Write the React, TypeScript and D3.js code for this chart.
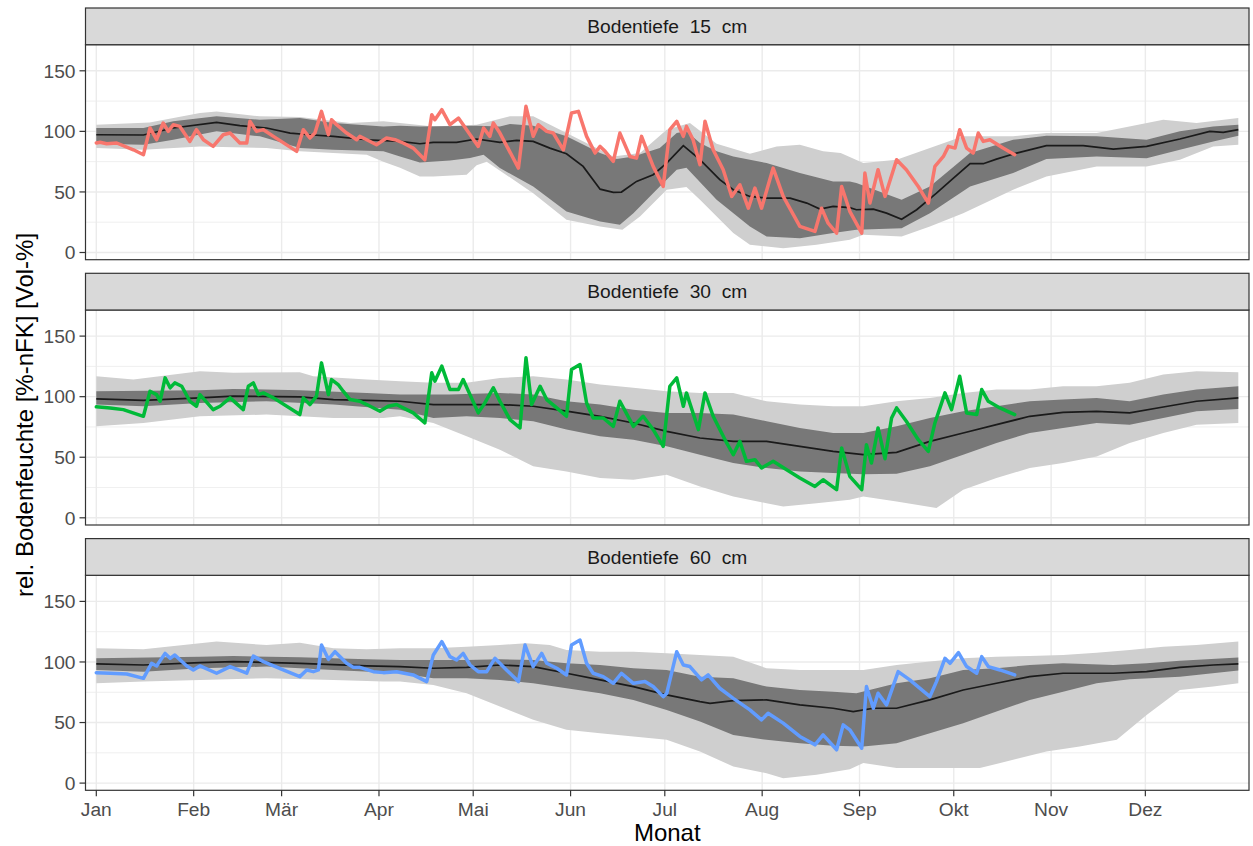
import React, { useEffect } from "react";
import * as d3 from "d3";

// [day of year (0 = 1 Jan), value in %-nFK]
type Pt = [number, number];

const monthLabels = ["Jan", "Feb", "Mär", "Apr", "Mai", "Jun", "Jul", "Aug", "Sep", "Okt", "Nov", "Dez"];
const depthLabels = ["Bodentiefe  15  cm", "Bodentiefe  30  cm", "Bodentiefe  60  cm"];
const obsColors = ["#F8766D", "#00BA38", "#619CFF"];
const yTicks = [0, 50, 100, 150];
const yMinor = [25, 75, 125];

// ---- 15 cm ----
const median15: Pt[] = [
  [0, 97.2], [15, 97], [24.5, 102.8], [38.3, 107.4], [45.7, 104.7], [54.2, 102.8], [61.7, 98.6], [68, 97.2],
  [75.5, 95.9], [86.1, 93.1], [96.7, 91.7], [103, 89.8], [107.3, 90.9], [114.7, 90.9], [121.1, 93.7], [128.5, 90.9],
  [133.8, 92.6], [139.1, 91.7], [144.4, 86.2], [149.7, 81.5], [155, 71.1], [160.4, 52.3], [164.6, 49.6], [167.2, 49.9],
  [172, 58.7], [177.3, 64.2], [181.6, 73.8], [186.9, 88.2], [192.2, 76.6], [198.5, 60.1], [202.8, 51.8], [208.1, 46.3],
  [213.4, 44.9], [220.9, 44.9], [226.2, 40.8], [230.4, 35.8], [234.6, 38], [239.9, 37], [242, 35.3], [247.4, 35.8],
  [251.6, 32.5], [256.4, 27.5], [261.2, 35.3], [267.5, 49], [272.9, 61.4], [278.2, 73.3], [282.4, 73.3], [286.6, 77.1],
  [293, 82.1], [302.5, 88.2], [314.2, 88.2], [323.8, 85.4], [334.4, 87.6], [345, 93.7], [354.5, 100], [358.8, 99.2],
  [363.6, 101.4],
];
const darkHi15: Pt[] = [
  [0, 102.8], [15, 102.8], [24.5, 108.3], [38.3, 112.4], [52.1, 109.6], [64.8, 111], [75.5, 106.9], [91.4, 104.1],
  [96.7, 104.7], [103, 104], [121.1, 104.7], [128.5, 104], [131.7, 106], [139.1, 104.7], [149.7, 95.9], [160.4, 82.1],
  [165.7, 77.1], [171, 79.3], [179.4, 86.2], [184.8, 98.6], [187.9, 100], [192.2, 90.4], [197.5, 83.5], [202.8, 79.3],
  [213.4, 73.8], [224, 65.6], [234.6, 58.7], [239.9, 58.7], [242, 57.3], [256.4, 43.5], [265.4, 54.5], [278.2, 82.1],
  [291.9, 93.1], [302.5, 96.4], [318.5, 95.9], [334.4, 93.1], [345, 100], [355.6, 104.1], [363.6, 105.5],
];
const darkLo15: Pt[] = [
  [0, 89.8], [15, 89], [24.5, 93.1], [38.3, 100], [52.1, 95.9], [64.8, 86.2], [75.5, 84.8], [91.4, 83.5], [96.7, 79.3],
  [103, 74.4], [112.6, 76], [119, 78], [123.3, 80.7], [128.5, 69.7], [139.1, 54.5], [149.7, 33.9], [160.4, 25.6],
  [166.7, 22.9], [171, 32.5], [179.4, 54.5], [184.8, 68.3], [187.9, 70], [197.5, 43.5], [208.1, 21.5], [213.4, 13.2],
  [224, 11.8], [234.6, 16], [242, 18.7], [256.4, 20.1], [265.4, 32.5], [278.2, 54.5], [291.9, 65.6], [302.5, 77.1],
  [318.5, 79.3], [334.4, 77.9], [345, 84.8], [355.6, 91.7], [363.6, 96.4],
];
const lightHi15: Pt[] = [
  [0, 105.5], [17, 107.4], [33, 115.2], [38.3, 116.5], [52.1, 112.4], [64.8, 111.8], [80.8, 106.9], [91.4, 108.3],
  [96.7, 106.9], [107.3, 104], [121.1, 105.5], [131.7, 112.4], [139.1, 112.4], [149.7, 98.6], [164.6, 79.3],
  [173.1, 82.1], [181.6, 101.4], [189, 106.9], [197.5, 89.8], [208.1, 81.5], [216.6, 87.6], [224, 89], [231.4, 83.5],
  [237, 82.1], [244.2, 73.8], [254.8, 76.6], [265.4, 86.2], [276, 95.9], [291.9, 95.9], [302.5, 98.6], [318.5, 98.6],
  [339.7, 109.6], [350.3, 106.9], [363.6, 111],
];
const lightLo15: Pt[] = [
  [0, 86.2], [15, 84.8], [33, 87.6], [54.2, 86.2], [64.8, 83.5], [86.1, 80.7], [91.4, 75], [96.7, 70], [103, 62.8],
  [107.3, 62.8], [117.9, 64.2], [121.1, 72], [124.3, 75], [139.1, 49], [149.7, 27], [160.4, 21.5], [167.5, 18.7],
  [173.1, 29.8], [181.6, 51.8], [187.9, 54], [192.2, 43.5], [202.8, 16], [208.1, 6.3], [218.7, 3.6], [229.3, 6.3],
  [239.9, 10.5], [244.2, 14.6], [256.4, 13.2], [265.4, 21.5], [276, 32.5], [291.9, 51.8], [302.5, 62.8], [318.5, 71.1],
  [334.4, 71.1], [345, 76.6], [355.6, 87.6], [363.6, 89],
];
const obs15: Pt[] = [
  [0, 90.4], [1.2, 91], [3.3, 89.8], [6.5, 90.4], [11.8, 84.8], [15, 80.7], [17.1, 102.8], [19.2, 93.1], [21.3, 106.9],
  [22.9, 100], [24.5, 105.5], [26.6, 104.1], [29.8, 91.7], [31.9, 101.4], [34.1, 93.1], [37.2, 87.6], [40.4, 97.2],
  [42.6, 98.6], [45.7, 90.4], [47.9, 90.4], [48.9, 108.3], [51, 100], [53.2, 101.4], [56.4, 95.9], [63.8, 83.5],
  [65.9, 101.4], [68, 94.5], [69.6, 98.6], [71.7, 116.5], [73.9, 97.2], [74.9, 109.6], [76.5, 105.5], [79.7, 98.6],
  [82.9, 93.1], [83.9, 95.9], [86.1, 93.1], [89.2, 89], [92.4, 94.5], [95.1, 93.1], [97.7, 90.4], [100.9, 86.2],
  [104.6, 76.6], [106.8, 113.8], [107.8, 109.6], [110, 117.9], [112.6, 105.5], [115.3, 111], [116.8, 105.5],
  [121.6, 87.6], [123.3, 102.8], [125.3, 95.9], [126.4, 106.9], [128.5, 98.6], [134.4, 69.7], [136.8, 120.7],
  [139.1, 95.9], [140.7, 105.5], [143.4, 100], [145.5, 98.6], [148.7, 84.8], [151.3, 115.2], [153.5, 116.5],
  [156.1, 95.9], [158.8, 82.1], [160.4, 87.6], [162, 83.5], [164.6, 75.2], [166.7, 98.6], [169.9, 79.3], [172, 77.9],
  [173.6, 95.9], [177.3, 71.1], [180.5, 54.5], [182.6, 101.4], [184.8, 108.3], [186.9, 95.9], [187.9, 104.1],
  [190, 93.1], [192.2, 72.5], [193.8, 108.3], [196.4, 84.8], [199.6, 68.3], [202.3, 46.3], [204.9, 55.9], [207.6, 36.6],
  [209.7, 53.2], [211.8, 36.6], [215.5, 69.7], [218.7, 46.3], [224, 21.5], [228.8, 17.4], [230.9, 36.6], [233, 24.2],
  [235.7, 16], [237.3, 54.5], [239.9, 34], [243.7, 16], [244.7, 65.6], [246.3, 40.8], [248.9, 68.3], [251.1, 46.3],
  [254.8, 76.6], [257.9, 68.3], [261.7, 54.5], [264.9, 40.8], [267, 71.1], [269.7, 79.3], [271.3, 87.6], [273.4, 86.2],
  [274.9, 101.4], [277.1, 86.2], [279.2, 82.1], [280.8, 98.6], [282.4, 91.7], [284.5, 93.1], [288.7, 86.2], [292.4, 80.7],
];

// ---- 30 cm ----
const median30: Pt[] = [
  [0, 98.2], [15, 97], [33, 99], [43.6, 100.4], [64.8, 99.8], [75.5, 97.6], [86.1, 97], [96.7, 96.2], [107.3, 93.5],
  [117.9, 93.5], [128.5, 93.5], [139.1, 92.1], [149.7, 88], [160.4, 83.8], [171, 78.3], [181.6, 71.4], [192.2, 65.9],
  [202.8, 63.1], [213.4, 63.1], [224, 59], [234.6, 54.9], [244.2, 52.1], [254.8, 54], [265.4, 63.1], [276, 70],
  [286.6, 76.9], [297.2, 83.8], [307.8, 87.1], [318.5, 87.9], [329, 86.6], [339.7, 91.5], [350.3, 96.2], [363.6, 99],
];
const darkHi30: Pt[] = [
  [0, 104.5], [33, 105.3], [43.6, 106.4], [64.8, 105.3], [86.1, 103.1], [96.7, 101.7], [112.6, 101.7], [128.5, 103.1],
  [139.1, 101.7], [149.7, 96.2], [160.4, 93.5], [171, 89.3], [181.6, 86.6], [192.2, 86.6], [202.8, 85.2], [213.4, 79.7],
  [224, 74.2], [234.6, 70], [244.2, 70], [254.8, 75.5], [265.4, 82.4], [276, 88], [286.6, 92.1], [297.2, 96.2],
  [307.8, 97.6], [318.5, 99], [329, 96.2], [339.7, 101.7], [350.3, 105.9], [363.6, 108.6],
];
const darkLo30: Pt[] = [
  [0, 93.5], [15, 92.1], [33, 94.8], [54.2, 96.2], [75.5, 93.5], [96.7, 89.3], [107.3, 82.4], [117.9, 83.8],
  [128.5, 82.4], [139.1, 79.7], [149.7, 72.8], [160.4, 67.3], [171, 64.5], [181.6, 59], [192.2, 52.1], [202.8, 45.2],
  [213.4, 41.1], [224, 38.3], [234.6, 36.9], [244.2, 36], [254.8, 36.4], [265.4, 42.5], [276, 52.1], [286.6, 61.8],
  [297.2, 70], [307.8, 74.2], [318.5, 78.3], [329, 76.9], [339.7, 82.4], [350.3, 88], [363.6, 89.9],
];
const lightHi30: Pt[] = [
  [0, 116.9], [11.8, 114.1], [33, 121], [43.6, 119.7], [64.8, 120.2], [69.1, 116.9], [86.1, 114.1], [96.7, 112.8],
  [107.3, 111.4], [117.9, 111.4], [128.5, 115.5], [139.1, 116.9], [149.7, 114.1], [160.4, 110], [171, 107.3],
  [181.6, 104.5], [192.2, 103.1], [202.8, 103.1], [213.4, 96.2], [224, 93.5], [234.6, 92.1], [244.2, 92.1],
  [254.8, 96.2], [265.4, 99], [276, 103.1], [286.6, 105.9], [297.2, 105.9], [307.8, 108.6], [318.5, 108.6],
  [329, 111.4], [339.7, 118.3], [350.3, 121], [363.6, 120.2],
];
const lightLo30: Pt[] = [
  [0, 75.5], [15, 78.3], [33, 83.8], [54.2, 85.2], [75.5, 82.4], [91.4, 82.4], [96.7, 83.8], [107.3, 78.3],
  [117.9, 67.3], [128.5, 56.2], [139.1, 42.5], [149.7, 38.3], [160.4, 32.8], [171, 31.4], [181.6, 35.6], [192.2, 25.9],
  [202.8, 17.6], [213.4, 12.1], [218.7, 9.4], [229.3, 12.1], [239.9, 14.9], [244.2, 17.6], [254.8, 13.5], [267.5, 8],
  [276, 23.2], [286.6, 32.8], [297.2, 41.1], [307.8, 45.2], [318.5, 50.7], [329, 61.8], [339.7, 70], [350.3, 76.9],
  [363.6, 78.3],
];
const obs30: Pt[] = [
  [0, 91.6], [4.4, 90.7], [8.6, 89.3], [15, 83.8], [17.1, 104.5], [19.2, 101.7], [20.3, 96.2], [21.9, 115.5],
  [23.5, 107.3], [25, 111.4], [27.2, 108.6], [29.8, 96.2], [31.9, 92.1], [33, 101.7], [37.2, 89.3], [39.4, 92.1],
  [42.6, 99], [46.8, 89.3], [48.4, 108.6], [50, 111.4], [51.6, 101.7], [53.2, 103.1], [56.4, 99], [64.8, 85.2],
  [65.9, 99], [68, 93.5], [70.1, 100.4], [71.7, 127.9], [73.9, 101.7], [74.9, 114.1], [77, 110], [78.6, 104.5],
  [80.8, 97.6], [83.9, 96.2], [86.1, 93.5], [90.3, 88], [92.9, 92.1], [95.6, 93.5], [98.8, 89.3], [100.9, 86.6],
  [104.6, 78.3], [106.8, 119.7], [107.8, 112.8], [110, 125.2], [112.6, 105.9], [115.3, 105.9], [116.8, 114.1],
  [121.6, 86.6], [123.7, 94.8], [126.4, 107.3], [128.5, 96.2], [131.7, 81.1], [134.9, 74.2], [136.8, 132.1],
  [138.6, 93.5], [141.3, 108.6], [143.4, 97.6], [146.6, 90.7], [149.7, 83.8], [151.3, 122.4], [154, 126.5],
  [156.1, 94.8], [158.2, 82.4], [161.4, 82.4], [164.6, 75.5], [166.7, 96.2], [171, 75.5], [174.1, 83.8], [177.3, 72.8],
  [180.5, 59], [182.6, 108.6], [184.8, 115.5], [186.9, 92.1], [187.9, 103.1], [191.7, 72.8], [193.8, 103.1],
  [196.4, 83.8], [200.7, 61.8], [202.8, 52.1], [204.9, 63.1], [207, 46.6], [209.7, 48], [211.8, 41.1], [215.5, 46.6],
  [219.8, 39.7], [224, 32.8], [228.8, 25.9], [231.4, 31.4], [235.7, 23.2], [237.3, 57.6], [239.9, 34.2], [243.7, 23.2],
  [245.2, 60.4], [246.8, 45.2], [248.9, 74.2], [251.1, 48.8], [253.2, 82.4], [254.8, 90.7], [257.9, 79.7],
  [261.7, 64.5], [264.9, 54.9], [267, 78.3], [270.2, 103.1], [272.3, 89.3], [274.9, 116.9], [277.1, 86.6],
  [280.3, 85.2], [281.9, 105.9], [284, 96.2], [287.7, 90.7], [292.4, 85.2],
];

// ---- 60 cm ----
const median60: Pt[] = [
  [0, 98.4], [15, 97.5], [33, 99.5], [43.6, 100.3], [64.8, 98.9], [86.1, 96.7], [96.7, 96.2], [107.3, 94.8],
  [117.9, 95.6], [128.5, 97.5], [139.1, 96.2], [149.7, 90.7], [160.4, 85.2], [171, 79.7], [181.6, 72.8], [192.2, 67.3],
  [195.4, 65.9], [202.8, 68.1], [213.4, 68.7], [224, 64.6], [234.6, 61.8], [241, 59.1], [247.4, 61.8], [254.8, 61.8],
  [265.4, 68.7], [276, 76.9], [286.6, 82.4], [297.2, 87.9], [307.8, 90.7], [323.8, 90.7], [334.4, 92], [345, 95.6],
  [355.6, 97.5], [363.6, 98.4],
];
const darkHi60: Pt[] = [
  [0, 103], [33, 104.4], [43.6, 104.9], [64.8, 103.8], [86.1, 102.2], [96.7, 101.6], [117.9, 101.6], [128.5, 102.2],
  [139.1, 101.6], [149.7, 98.9], [160.4, 97.5], [171, 94.8], [181.6, 93.4], [192.2, 87.9], [202.8, 86.5], [213.4, 79.7],
  [224, 76.9], [234.6, 75.5], [242, 74.2], [254.8, 82.4], [265.4, 86.5], [276, 93.4], [286.6, 94.8], [297.2, 97.5],
  [307.8, 98.9], [323.8, 97.5], [334.4, 98.9], [345, 101.1], [363.6, 103.6],
];
const darkLo60: Pt[] = [
  [0, 93.4], [15, 92], [33, 94.8], [54.2, 96.2], [75.5, 93.4], [96.7, 90.7], [107.3, 86.5], [117.9, 86.5],
  [128.5, 85.2], [139.1, 82.4], [149.7, 78.3], [160.4, 74.2], [171, 68.7], [181.6, 60.4], [192.2, 50.8], [202.8, 39.8],
  [213.4, 35.7], [224, 33], [234.6, 30.8], [244.2, 30.2], [254.8, 33], [265.4, 41.2], [276, 49.5], [286.6, 59.1],
  [297.2, 68.7], [307.8, 75.5], [318.5, 82.4], [329, 85.7], [345, 87.9], [363.6, 92.9],
];
const lightHi60: Pt[] = [
  [0, 111.3], [15, 110.4], [33, 115.4], [38.3, 116.8], [54.2, 114], [64.8, 115.9], [75.5, 111.3], [86.1, 110.4],
  [96.7, 111.3], [107.3, 111.3], [117.9, 112.6], [128.5, 114], [136.8, 115.4], [144.4, 114], [149.7, 109.9],
  [160.4, 108.5], [171, 108.5], [181.6, 107.1], [192.2, 105.8], [202.8, 104.4], [213.4, 94.8], [224, 93.4],
  [234.6, 93.4], [244.2, 93.4], [254.8, 97.5], [265.4, 100.3], [276, 103], [286.6, 104.4], [297.2, 104.9],
  [307.8, 105.8], [318.5, 107.7], [329, 109.9], [339.7, 112.6], [350.3, 114], [363.6, 116.8],
];
const lightLo60: Pt[] = [
  [0, 82.4], [15, 83.8], [33, 85.2], [54.2, 86.5], [75.5, 85.2], [91.4, 83.8], [96.7, 83.8], [107.3, 81], [117.9, 74.2],
  [128.5, 63.2], [139.1, 52.2], [149.7, 44], [160.4, 41.2], [171, 38.5], [181.6, 35.7], [192.2, 26.1], [202.8, 13.7],
  [213.4, 8.2], [218.7, 4.1], [229.3, 6.9], [239.9, 11.5], [244.2, 16.5], [254.8, 12.4], [265.4, 12.4], [281.3, 12.4],
  [291.9, 19.2], [302.5, 26.1], [313.1, 30.2], [324.9, 35.7], [334.4, 56.3], [345, 76.9], [355.6, 79.7], [363.6, 82.4],
];
const obs60: Pt[] = [
  [0, 91.2], [4.4, 90.7], [9.7, 90.1], [15, 86.5], [17.6, 98.9], [19.2, 96.7], [21.9, 107.1], [23.5, 103], [25, 105.8],
  [28.8, 96.7], [30.9, 93.4], [33, 96.7], [38.3, 90.7], [42.6, 96.2], [47.9, 90.7], [50, 104.9], [53.2, 100.3],
  [59.5, 93.4], [64.8, 87.9], [67, 93.4], [69.1, 92], [70.7, 93.4], [71.7, 114], [73.9, 102.2], [76, 108.5],
  [79.7, 98.9], [81.8, 95.6], [83.9, 95.6], [88.2, 92], [91.4, 91.2], [95.6, 92], [100.9, 89.3], [105.2, 83.8],
  [107.3, 105.8], [110, 116.8], [112.6, 104.4], [114.7, 101.6], [116.8, 107.1], [119, 97.5], [121.6, 92], [124.3, 92],
  [126.9, 103], [130.6, 93.4], [134.4, 83.8], [136.5, 114], [139.1, 96.2], [141.8, 107.1], [143.4, 98.9], [146.6, 94.8],
  [149.7, 89.3], [151.3, 114], [154, 118.1], [156.1, 98.9], [158.2, 90.7], [161.4, 87.9], [164.6, 82.4], [167.2, 90.7],
  [171, 82.4], [174.7, 83.8], [177.3, 79.7], [180.5, 71.4], [181.6, 74], [184.8, 108.5], [186.9, 97.5], [189, 96.2],
  [192.7, 85.2], [194.8, 89.3], [198.5, 78.3], [202.8, 70], [208.1, 60.4], [211.8, 52.2], [213.9, 57.7], [218.7, 49.5],
  [224, 38.5], [228.8, 31.6], [231.4, 39.8], [235.7, 27.5], [237.8, 48.1], [239.9, 44], [243.7, 28.8], [245.2, 79.7],
  [247.4, 61.8], [248.9, 74.2], [251.6, 64.6], [255.3, 92], [259, 85.2], [265.4, 71.4], [267.5, 83.8], [270.2, 103],
  [271.8, 98.9], [274.5, 107.7], [277.1, 96.2], [280.3, 90.7], [281.9, 104.4], [284, 96.2], [287.7, 93.4], [292.4, 89.3],
];

const panels = [
  { median: median15, darkHi: darkHi15, darkLo: darkLo15, lightHi: lightHi15, lightLo: lightLo15, obs: obs15 },
  { median: median30, darkHi: darkHi30, darkLo: darkLo30, lightHi: lightHi30, lightLo: lightLo30, obs: obs30 },
  { median: median60, darkHi: darkHi60, darkLo: darkLo60, lightHi: lightHi60, lightLo: lightLo60, obs: obs60 },
];

const W = 1253;
const H = 846;
const left = 85.5;
const right = 1249;
const stripTop0 = 8;
const stripH = 36.7;
const panelH = 215;
const panelStep = 265.3;
const font = "'Liberation Sans', Arial, Helvetica, sans-serif";

const dayMs = 86400000;
const toDate = (d: number) => new Date(Date.UTC(2021, 0, 1) + d * dayMs);

const App: React.FC = () => {
  useEffect(() => {
    document.body.style.margin = "0";
  }, []);

  const x = d3.scaleUtc().domain([toDate(-3.44), toDate(367)]).range([left, right]);
  const monthTicks = d3.utcMonth.range(toDate(0), toDate(365));
  const xCenter = (left + right) / 2;
  const lastBottom = stripTop0 + 2 * panelStep + stripH + panelH;

  return (
    <svg width={W} height={H} style={{ display: "block", background: "#fff", fontFamily: font }}>
      <defs>
        {panels.map((_, i) => {
          const top = stripTop0 + i * panelStep + stripH;
          return (
            <clipPath id={`clip-${i}`} key={i}>
              <rect x={left} y={top} width={right - left} height={panelH} />
            </clipPath>
          );
        })}
      </defs>
      {panels.map((p, i) => {
        const sTop = stripTop0 + i * panelStep;
        const top = sTop + stripH;
        const y = d3.scaleLinear().domain([-5.94, 171.55]).range([top + panelH, top]);
        const line = d3
          .line<Pt>()
          .x((d) => x(toDate(d[0])))
          .y((d) => y(d[1]));
        const ribbon = (hi: Pt[], lo: Pt[]) => (line([...hi, ...lo.slice().reverse()]) ?? "") + "Z";
        return (
          <g key={i}>
            <rect x={left} y={top} width={right - left} height={panelH} fill="#fff" />
            {yMinor.map((v) => (
              <line key={`mn${v}`} x1={left} x2={right} y1={y(v)} y2={y(v)} stroke="#EBEBEB" strokeWidth={0.8} />
            ))}
            {yTicks.map((v) => (
              <line key={`mj${v}`} x1={left} x2={right} y1={y(v)} y2={y(v)} stroke="#EBEBEB" strokeWidth={1.4} />
            ))}
            {monthTicks.map((m) => (
              <line key={+m} x1={x(m)} x2={x(m)} y1={top} y2={top + panelH} stroke="#EBEBEB" strokeWidth={1.4} />
            ))}
            <g clipPath={`url(#clip-${i})`}>
              <path d={ribbon(p.lightHi, p.lightLo)} fill="#CFCFCF" />
              <path d={ribbon(p.darkHi, p.darkLo)} fill="#787878" />
              <path d={line(p.median) ?? ""} fill="none" stroke="#1A1A1A" strokeWidth={1.7} />
              <path
                d={line(p.obs) ?? ""}
                fill="none"
                stroke={obsColors[i]}
                strokeWidth={3.5}
                strokeLinejoin="round"
                strokeLinecap="round"
              />
            </g>
            <rect x={left} y={top} width={right - left} height={panelH} fill="none" stroke="#333333" strokeWidth={1.2} />
            <rect x={left} y={sTop} width={right - left} height={stripH} fill="#D9D9D9" stroke="#333333" strokeWidth={1.2} />
            <text
              x={xCenter}
              y={sTop + stripH / 2}
              dy="0.35em"
              textAnchor="middle"
              fontSize={19.2}
              fill="#1A1A1A"
              style={{ whiteSpace: "pre" }}
            >
              {depthLabels[i]}
            </text>
            {yTicks.map((v) => (
              <g key={`yt${v}`}>
                <line x1={left - 6} x2={left} y1={y(v)} y2={y(v)} stroke="#333333" strokeWidth={1.2} />
                <text x={left - 10} y={y(v)} dy="0.35em" textAnchor="end" fontSize={19.2} fill="#4D4D4D">
                  {v}
                </text>
              </g>
            ))}
          </g>
        );
      })}
      {monthTicks.map((m, j) => (
        <g key={`xt${j}`}>
          <line x1={x(m)} x2={x(m)} y1={lastBottom} y2={lastBottom + 6} stroke="#333333" strokeWidth={1.2} />
          <text x={x(m)} y={816} textAnchor="middle" fontSize={19.2} fill="#4D4D4D">
            {monthLabels[j]}
          </text>
        </g>
      ))}
      <text x={xCenter} y={841} textAnchor="middle" fontSize={24} fill="#000">
        Monat
      </text>
      <text transform="translate(33,415) rotate(-90)" textAnchor="middle" fontSize={24} fill="#000">
        rel. Bodenfeuchte [%-nFK] [Vol-%]
      </text>
    </svg>
  );
};

export default App;
